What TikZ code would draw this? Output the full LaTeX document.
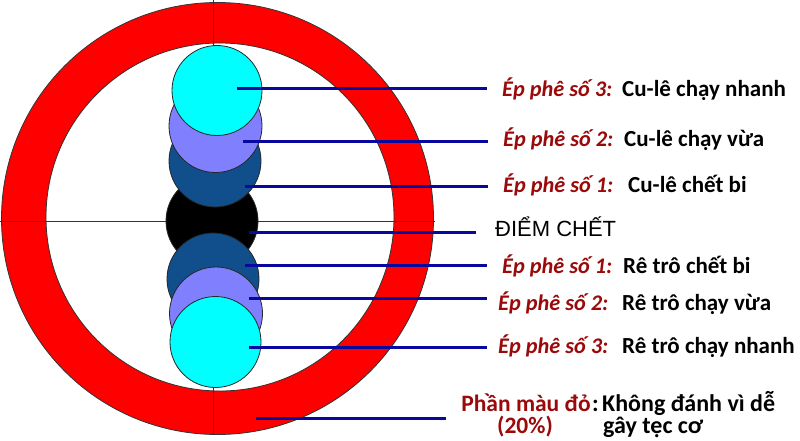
\documentclass[tikz,border=0pt]{standalone}
\usepackage{fontspec}
\setmainfont{Carlito}
\newfontfamily\arialf{Liberation Sans}
\definecolor{ringred}{RGB}{255,0,0}
\definecolor{ballcyan}{RGB}{0,255,255}
\definecolor{ballpurple}{RGB}{128,128,255}
\definecolor{balldark}{RGB}{16,78,140}
\definecolor{leadblue}{RGB}{8,8,160}
\definecolor{labred}{RGB}{155,10,10}
\begin{document}
\begin{tikzpicture}[x=1pt,y=-1pt,
  ball/.style={circle,draw=black!85,line width=0.8pt,minimum size=#1,inner sep=0pt},
  leader/.style={draw=leadblue,line width=3pt},
  redlab/.style={anchor=base west,inner xsep=15pt,inner ysep=0pt,font=\fontsize{22.3}{25}\selectfont\bfseries\itshape,text=labred},
  desc/.style={anchor=base west,inner sep=0pt,font=\fontsize{23}{26}\selectfont\bfseries,text=black}]
\useasboundingbox (0,0) rectangle (800,440);
\fill[white] (0,0) rectangle (800,440);
% ring
\fill[ringred,even odd rule] (217.5,218.5) circle[radius=216] (220,217) circle[radius=174];
\draw[black!80,line width=0.8pt] (217.5,218.5) circle[radius=216];
\draw[black!80,line width=0.8pt] (220,217) circle[radius=174];
% cross lines
\coordinate (vtop) at (213,0);
\coordinate (vbot) at (213,435);
\coordinate (hl) at (0,221);
\coordinate (hr) at (435,221);
\draw[black!80,line width=0.8pt] (vtop) -- (vbot);
\draw[black!80,line width=0.8pt] (hl) -- (hr);
% balls
\node[ball=92pt,fill=black] (b0) at (212,221) {};
\node[ball=92pt,fill=balldark] (d1) at (215,161) {};
\node[ball=92pt,fill=balldark] (d2) at (213,279) {};
\node[ball=93pt,fill=ballpurple] (p1) at (215.5,126) {};
\node[ball=93pt,fill=ballpurple] (p2) at (216,313.5) {};
\node[ball=90pt,fill=ballcyan] (c1) at (217,90.5) {};
\node[ball=91pt,fill=ballcyan] (c2) at (215.5,342) {};
% labels
\node[redlab] (l1) at (487,96) {Ép phê số 3:};
\node[desc] (t1) at (622,96) {Cu-lê chạy nhanh};
\node[redlab] (l2) at (488,146) {Ép phê số 2:};
\node[desc] (t2) at (624,146) {Cu-lê chạy vừa};
\node[redlab] (l3) at (488,192) {Ép phê số 1:};
\node[desc] (t3) at (628,192) {Cu-lê chết bi};
\node[anchor=base west,inner xsep=19pt,inner ysep=0pt,font=\arialf\fontsize{22}{26}\selectfont] (l4) at (476,236) {ĐIỂM CHẾT};
\node[redlab] (l5) at (487,273) {Ép phê số 1:};
\node[desc] (t5) at (623,273) {Rê trô chết bi};
\node[redlab,inner xsep=11pt] (l6) at (487,310) {Ép phê số 2:};
\node[desc] (t6) at (622,310) {Rê trô chạy vừa};
\node[redlab,inner xsep=11pt] (l7) at (487,353) {Ép phê số 3:};
\node[desc] (t7) at (622,353) {Rê trô chạy nhanh};
\node[anchor=base,inner sep=0pt,font=\fontsize{23.5}{26}\selectfont\bfseries,text=labred] (l8) at (526,411) {Phần màu đỏ};
\node[anchor=base,inner sep=0pt,font=\fontsize{23.5}{26}\selectfont\bfseries,text=labred] (l8b) at (525,433) {(20\%)};
\node[anchor=base west,inner sep=0pt,font=\fontsize{24}{26}\selectfont\bfseries] (col) at (592,411) {:};
\node[anchor=base west,inner sep=0pt,font=\fontsize{24}{26}\selectfont\bfseries] (t8) at (602,411) {Không đánh vì dễ};
\node[anchor=base west,inner sep=0pt,font=\fontsize{24}{26}\selectfont\bfseries] (t8b) at (603,433) {gây tẹc cơ};
% leaders
\coordinate (s1) at (237,88);
\coordinate (s2) at (243,141);
\coordinate (s3) at (245,186);
\coordinate (s4) at (249,232);
\coordinate (s5) at (245,265);
\coordinate (s6) at (249,298);
\coordinate (s7) at (249,347);
\coordinate (s8) at (256,418);
\coordinate (e8) at (446,418);
\draw[leader] (s1) -- (s1 -| l1.west);
\draw[leader] (s2) -- (s2 -| l2.west);
\draw[leader] (s3) -- (s3 -| l3.west);
\draw[leader] (s4) -- (s4 -| l4.west);
\draw[leader] (s5) -- (s5 -| l5.west);
\draw[leader] (s6) -- (s6 -| l6.west);
\draw[leader] (s7) -- (s7 -| l7.west);
\draw[leader] (s8) -- (e8);
\end{tikzpicture}
\end{document}
